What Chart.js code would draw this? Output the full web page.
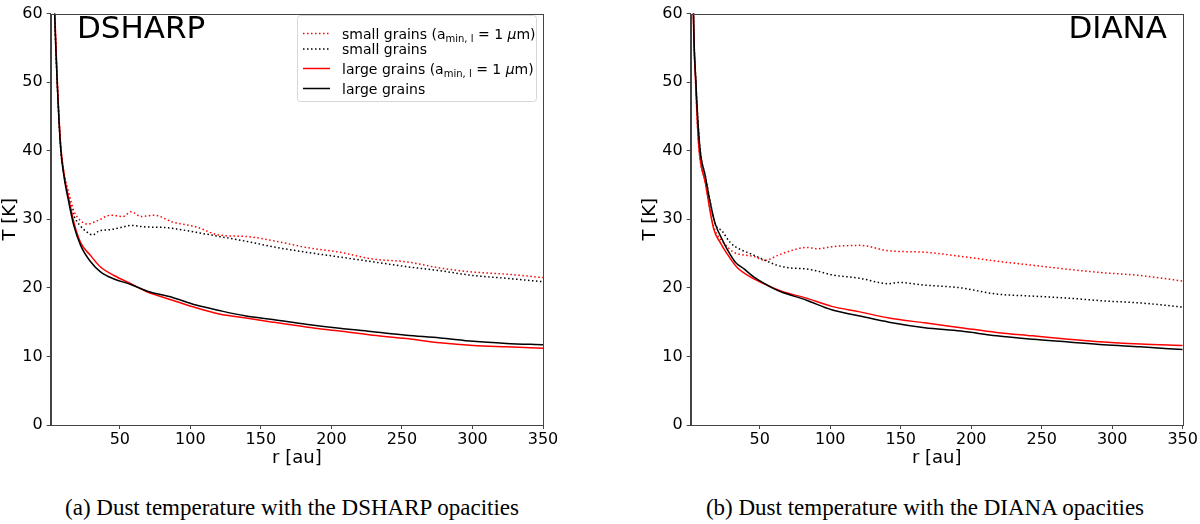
<!DOCTYPE html>
<html><head><meta charset="utf-8">
<script src="https://cdn.jsdelivr.net/npm/chart.js@4"></script>
<style>
html,body{margin:0;padding:0;background:#fff;width:1200px;height:524px;overflow:hidden;}
#c1{position:absolute;left:0;top:0;}
#c2{position:absolute;left:640px;top:0;}
.cap{position:absolute;top:495px;font-family:"Liberation Serif","Times New Roman",serif;font-size:23px;color:#000;white-space:nowrap;transform:translateX(-50%);line-height:26px;}
</style></head><body>
<canvas id="c1" width="600" height="480"></canvas>
<canvas id="c2" width="560" height="480"></canvas>
<div class="cap" style="left:292px">(a) Dust temperature with the DSHARP opacities</div>
<div class="cap" style="left:925px">(b) Dust temperature with the DIANA opacities</div>
<script>
// ---------- data ----------
const xTicks = [50, 100, 150, 200, 250, 300, 350];
const yTicks = [0, 10, 20, 30, 40, 50, 60];
const seriesLabels = ['small grains (a_min,l = 1 μm)', 'small grains', 'large grains (a_min,l = 1 μm)', 'large grains'];
const legendParts = [
  [['small grains (a', 'n'], ['min, l', 'sub'], [' = 1 ', 'n'], ['μ', 'it'], ['m)', 'n']],
  [['small grains', 'n']],
  [['large grains (a', 'n'], ['min, l', 'sub'], [' = 1 ', 'n'], ['μ', 'it'], ['m)', 'n']],
  [['large grains', 'n']]
];

// DSHARP panel
const dsSmallA1R = [2, 3, 3.9, 5.7, 8.2, 10.4, 13.9, 17.5, 22.2, 27, 34.1, 43.6, 51.9, 58.3, 64.9, 74.4, 87.4, 104, 120.5, 139.5, 158.4, 182, 205.8, 229.5, 253, 277, 300.6, 324, 350];
const dsSmallA1T = [85, 67, 60, 50, 40.5, 36.8, 33.8, 31.2, 29.8, 29.3, 29.8, 30.6, 30.4, 31.1, 30.4, 30.6, 29.6, 28.9, 27.7, 27.5, 26.9, 25.9, 25.2, 24.2, 23.8, 22.9, 22.3, 22.0, 21.5];
const dsSmallR = [2, 3, 3.8, 5.6, 8, 10.4, 13.9, 17.5, 22.2, 27, 30.6, 35.3, 43.6, 50.7, 57.8, 67.2, 81.5, 90, 104, 120.5, 139.5, 158.4, 182, 205.8, 229.5, 253, 277, 300.6, 324, 350];
const dsSmallT = [85, 67, 60, 50, 40.5, 36.5, 33.0, 30.5, 29.0, 28.1, 27.7, 28.3, 28.5, 28.8, 29.1, 28.9, 28.8, 28.6, 28.1, 27.5, 26.8, 26.0, 25.2, 24.5, 23.8, 23.1, 22.5, 21.8, 21.4, 20.9];
const dsLargeA1R = [2, 3, 3.9, 5.7, 8.2, 10.4, 13.9, 17.5, 22.2, 29.3, 36.5, 45.9, 57.8, 69.6, 87.4, 104, 120.5, 139.5, 158.4, 182, 205.8, 229.5, 253, 277, 300.6, 324, 350];
const dsLargeA1T = [85, 67, 60, 50, 40.5, 36.7, 32.9, 29.5, 26.6, 24.7, 23.0, 21.8, 20.6, 19.4, 18.2, 17.1, 16.2, 15.6, 15.0, 14.3, 13.7, 13.1, 12.6, 12.0, 11.6, 11.4, 11.2];
const dsLargeR = [2, 3, 3.8, 5.6, 8, 10.4, 13.9, 17.5, 22.2, 29.3, 36.5, 45.9, 57.8, 69.6, 87.4, 104, 120.5, 139.5, 158.4, 182, 205.8, 229.5, 253, 277, 300.6, 324, 350];
const dsLargeT = [85, 67, 60, 50, 40.5, 36.3, 32.4, 29.0, 26.2, 23.8, 22.3, 21.3, 20.5, 19.5, 18.6, 17.5, 16.7, 15.9, 15.4, 14.7, 14.1, 13.6, 13.1, 12.7, 12.2, 11.9, 11.7];

// DIANA panel
const diSmallA1R = [2, 2.9, 4.5, 6.6, 11.4, 17.3, 24.4, 31.5, 38.6, 45.7, 54, 62.3, 71.7, 83.2, 90.8, 101, 121, 141.7, 167, 192.6, 218, 243.5, 269, 294, 320, 350];
const diSmallA1T = [78, 60, 50, 41, 35.3, 29.0, 26.6, 25.2, 24.8, 24.6, 24.0, 24.7, 25.4, 25.9, 25.7, 26.0, 26.2, 25.4, 25.2, 24.6, 23.9, 23.3, 22.7, 22.2, 21.8, 21.0];
const diSmallR = [2, 3, 4.7, 7.5, 11.4, 14.9, 18.5, 23.2, 29.1, 36.2, 43.3, 52.8, 62.3, 71.7, 81.2, 90, 101, 121, 141.7, 148, 167, 192.6, 218, 243.5, 269, 294, 320, 350];
const diSmallT = [80, 60, 50, 40.5, 36.3, 32.5, 29.3, 28.3, 26.6, 25.6, 25.0, 24.1, 23.3, 22.9, 22.8, 22.5, 21.9, 21.4, 20.6, 20.8, 20.4, 20.0, 19.1, 18.8, 18.5, 18.1, 17.8, 17.2];
const diLargeA1R = [2, 2.9, 4.5, 6.6, 11.4, 17.3, 22, 26.7, 33.8, 43.3, 55.1, 65.4, 83.2, 101, 121, 141.7, 167, 192.6, 218, 243.5, 269, 294, 320, 350];
const diLargeA1T = [78, 60, 50, 41, 35.3, 28.6, 26.6, 25.0, 23.0, 21.6, 20.4, 19.5, 18.5, 17.3, 16.5, 15.6, 14.9, 14.2, 13.5, 13.0, 12.5, 12.1, 11.8, 11.6];
const diLargeR = [2, 3, 4.7, 7.5, 11.4, 14.9, 18.5, 23.2, 26.7, 32.7, 38.6, 45.7, 59.9, 65.4, 83.2, 101, 121, 141.7, 167, 192.6, 218, 243.5, 269, 294, 320, 350];
const diLargeT = [80, 60, 50, 40.5, 36.25, 32.4, 29.3, 27.1, 25.7, 23.75, 22.8, 21.6, 19.9, 19.4, 18.2, 16.8, 15.9, 15.0, 14.2, 13.7, 13.0, 12.5, 12.1, 11.7, 11.4, 11.0];

// ---------- helpers ----------
Chart.defaults.font.family = '"DejaVu Sans", sans-serif';
Chart.defaults.color = '#000';
function pts(r, t) { return r.map((v, i) => ({x: v, y: t[i]})); }
const RED = '#ff0000', BLACK = '#000000';
const DOT = [1.5, 2.5];

function makeDatasets(sA1R, sA1T, sR, sT, lA1R, lA1T, lR, lT) {
  const base = {pointRadius: 0, borderWidth: 1.5, fill: false, cubicInterpolationMode: 'monotone'};
  return [
    Object.assign({label: seriesLabels[0], data: pts(sA1R, sA1T), borderColor: RED, borderDash: DOT, order: 4}, base),
    Object.assign({label: seriesLabels[1], data: pts(sR, sT), borderColor: BLACK, borderDash: DOT, order: 3}, base),
    Object.assign({label: seriesLabels[2], data: pts(lA1R, lA1T), borderColor: RED, order: 2}, base),
    Object.assign({label: seriesLabels[3], data: pts(lR, lT), borderColor: BLACK, order: 1}, base)
  ];
}

const framePlugin = {
  id: 'frame',
  afterDatasetsDraw(chart, args, opts) {
    const {ctx, chartArea: a} = chart;
    ctx.save();
    ctx.strokeStyle = '#444';
    ctx.lineWidth = 1;
    ctx.strokeRect(Math.round(a.left) + 0.5, Math.round(a.top) + 0.5, Math.round(a.right - a.left), Math.round(a.bottom - a.top));
    ctx.fillStyle = '#000';
    ctx.font = '31px "DejaVu Sans"';
    ctx.textBaseline = 'alphabetic';
    ctx.textAlign = opts.align;
    ctx.fillText(opts.text, opts.x, opts.y);
    ctx.restore();
  }
};

const legendPlugin = {
  id: 'mplLegend',
  afterDraw(chart, args, opts) {
    if (!opts.show) return;
    const ctx = chart.ctx;
    ctx.save();
    const bx = 297.5, by = 15.5, bw = 239, bh = 86, rr = 3;
    ctx.beginPath();
    ctx.moveTo(bx + rr, by);
    ctx.arcTo(bx + bw, by, bx + bw, by + bh, rr);
    ctx.arcTo(bx + bw, by + bh, bx, by + bh, rr);
    ctx.arcTo(bx, by + bh, bx, by, rr);
    ctx.arcTo(bx, by, bx + bw, by, rr);
    ctx.closePath();
    ctx.fillStyle = 'rgba(255,255,255,0.8)';
    ctx.fill();
    ctx.strokeStyle = '#d6d6d6';
    ctx.lineWidth = 1;
    ctx.stroke();
    const rowY = [33.5, 49, 68.5, 88.5];
    chart.data.datasets.forEach((ds, i) => {
      const y = rowY[i];
      ctx.beginPath();
      ctx.setLineDash(ds.borderDash || []);
      ctx.strokeStyle = ds.borderColor;
      ctx.lineWidth = 1.5;
      ctx.moveTo(303, y);
      ctx.lineTo(330, y);
      ctx.stroke();
      ctx.setLineDash([]);
      let x = 342;
      ctx.fillStyle = '#000';
      ctx.textAlign = 'left';
      ctx.textBaseline = 'alphabetic';
      const base = y + 5;
      legendParts[i].forEach(([txt, kind]) => {
        if (kind === 'sub') {
          ctx.font = '10px "DejaVu Sans"';
          ctx.fillText(txt, x, base + 3);
        } else if (kind === 'it') {
          ctx.font = 'oblique 14px "DejaVu Sans"';
          ctx.fillText(txt, x, base);
        } else {
          ctx.font = '14px "DejaVu Sans"';
          ctx.fillText(txt, x, base);
        }
        x += ctx.measureText(txt).width;
      });
    });
    ctx.restore();
  }
};

function makeChart(id, datasets, padRight, label) {
  return new Chart(document.getElementById(id), {
    type: 'line',
    data: {datasets},
    plugins: [framePlugin, legendPlugin],
    options: {
      responsive: false,
      animation: false,
      layout: {padding: {left: 0, right: padRight, top: 8, bottom: 0}},
      plugins: {
        legend: {display: false},
        tooltip: {enabled: false},
        frame: label,
        mplLegend: {show: id === 'c1'}
      },
      scales: {
        x: {
          type: 'linear', min: 1, max: 350,
          afterBuildTicks: s => { s.ticks = xTicks.map(v => ({value: v})); },
          afterFit: s => { s.height = 55; },
          grid: {drawOnChartArea: false, drawTicks: true, tickLength: 4, color: '#444'},
          border: {display: true, color: '#444'},
          ticks: {font: {size: 16}, padding: 1, maxRotation: 0, color: '#000'},
          title: {display: true, text: 'r [au]', font: {size: 18}, padding: {top: 0, bottom: 11}, color: '#000'}
        },
        y: {
          type: 'linear', min: 0, max: 60,
          afterBuildTicks: s => { s.ticks = yTicks.map(v => ({value: v})); },
          afterFit: s => { s.width = 50.7; },
          grid: {drawOnChartArea: false, drawTicks: true, tickLength: 4, color: '#444'},
          border: {display: true, color: '#444'},
          ticks: {font: {size: 16}, padding: 4, color: '#000'},
          title: {display: true, text: 'T [K]', font: {size: 18}, padding: {top: 0, bottom: 0}, color: '#000'}
        }
      }
    }
  });
}

makeChart('c1', makeDatasets(dsSmallA1R, dsSmallA1T, dsSmallR, dsSmallT, dsLargeA1R, dsLargeA1T, dsLargeR, dsLargeT), 57, {text: 'DSHARP', align: 'left', x: 77, y: 38});
makeChart('c2', makeDatasets(diSmallA1R, diSmallA1T, diSmallR, diSmallT, diLargeA1R, diLargeA1T, diLargeR, diLargeT), 17.3, {text: 'DIANA', align: 'right', x: 527, y: 38});
</script>
</body></html>
